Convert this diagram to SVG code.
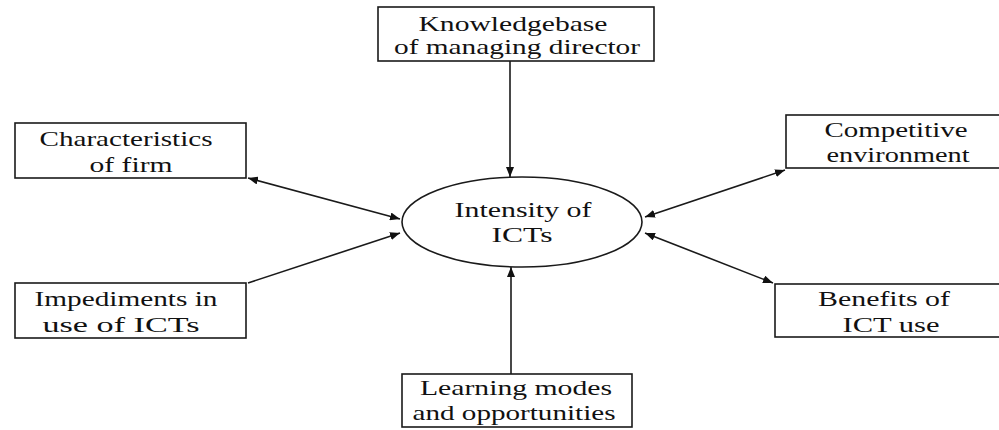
<svg xmlns="http://www.w3.org/2000/svg" width="999" height="430" viewBox="0 0 999 430">
<defs>
<marker id="ah" viewBox="0 0 10 8" refX="10" refY="4" markerWidth="10" markerHeight="8" markerUnits="userSpaceOnUse" orient="auto-start-reverse">
<path d="M0,0 L10,4 L0,8 Z" fill="#111"/>
</marker>
<style>
.box{fill:#fff;stroke:#1a1a1a;stroke-width:1.6}
.t{font-family:"Liberation Serif","Times New Roman",serif;font-size:22px;fill:#111;text-anchor:middle}
.c{stroke:#1a1a1a;stroke-width:1.6;fill:none}
</style>
</defs>
<rect width="999" height="430" fill="#fff"/>
<g id="connectors">
<line class="c" x1="510" y1="61" x2="510" y2="177" marker-end="url(#ah)"/>
<line class="c" x1="511" y1="374" x2="511" y2="267" marker-end="url(#ah)"/>
<line class="c" x1="248" y1="178" x2="400" y2="219" marker-start="url(#ah)" marker-end="url(#ah)"/>
<line class="c" x1="248" y1="283" x2="400" y2="233" marker-end="url(#ah)"/>
<line class="c" x1="785" y1="170" x2="645" y2="217" marker-start="url(#ah)" marker-end="url(#ah)"/>
<line class="c" x1="773" y1="283" x2="645" y2="233" marker-start="url(#ah)" marker-end="url(#ah)"/>
</g>
<g id="center">
<ellipse class="box" cx="522" cy="222" rx="120" ry="45"/>
<text class="t" x="523" y="217" textLength="137" lengthAdjust="spacingAndGlyphs">Intensity of</text>
<text class="t" x="522" y="242" textLength="61" lengthAdjust="spacingAndGlyphs">ICTs</text>
</g>
<g id="knowledge">
<rect class="box" x="378" y="7" width="276" height="54"/>
<text class="t" x="513" y="31" textLength="189" lengthAdjust="spacingAndGlyphs">Knowledgebase</text>
<text class="t" x="517" y="54" textLength="246" lengthAdjust="spacingAndGlyphs">of managing director</text>
</g>
<g id="characteristics">
<rect class="box" x="15" y="123" width="231" height="55"/>
<text class="t" x="126" y="146" textLength="173" lengthAdjust="spacingAndGlyphs">Characteristics</text>
<text class="t" x="131" y="172" textLength="83" lengthAdjust="spacingAndGlyphs">of firm</text>
</g>
<g id="impediments">
<rect class="box" x="15" y="283" width="231" height="55"/>
<text class="t" x="126" y="306" textLength="183" lengthAdjust="spacingAndGlyphs">Impediments in</text>
<text class="t" x="121" y="332" textLength="157" lengthAdjust="spacingAndGlyphs">use of ICTs</text>
</g>
<g id="competitive">
<rect class="box" x="786" y="115" width="220" height="53"/>
<text class="t" x="896" y="137" textLength="143" lengthAdjust="spacingAndGlyphs">Competitive</text>
<text class="t" x="898" y="162" textLength="143" lengthAdjust="spacingAndGlyphs">environment</text>
</g>
<g id="benefits">
<rect class="box" x="775" y="284" width="230" height="53"/>
<text class="t" x="884" y="306" textLength="132" lengthAdjust="spacingAndGlyphs">Benefits of</text>
<text class="t" x="891" y="332" textLength="97" lengthAdjust="spacingAndGlyphs">ICT use</text>
</g>
<g id="learning">
<rect class="box" x="402" y="374" width="230" height="53"/>
<text class="t" x="516" y="395" textLength="192" lengthAdjust="spacingAndGlyphs">Learning modes</text>
<text class="t" x="514" y="420" textLength="203" lengthAdjust="spacingAndGlyphs">and opportunities</text>
</g>
</svg>
